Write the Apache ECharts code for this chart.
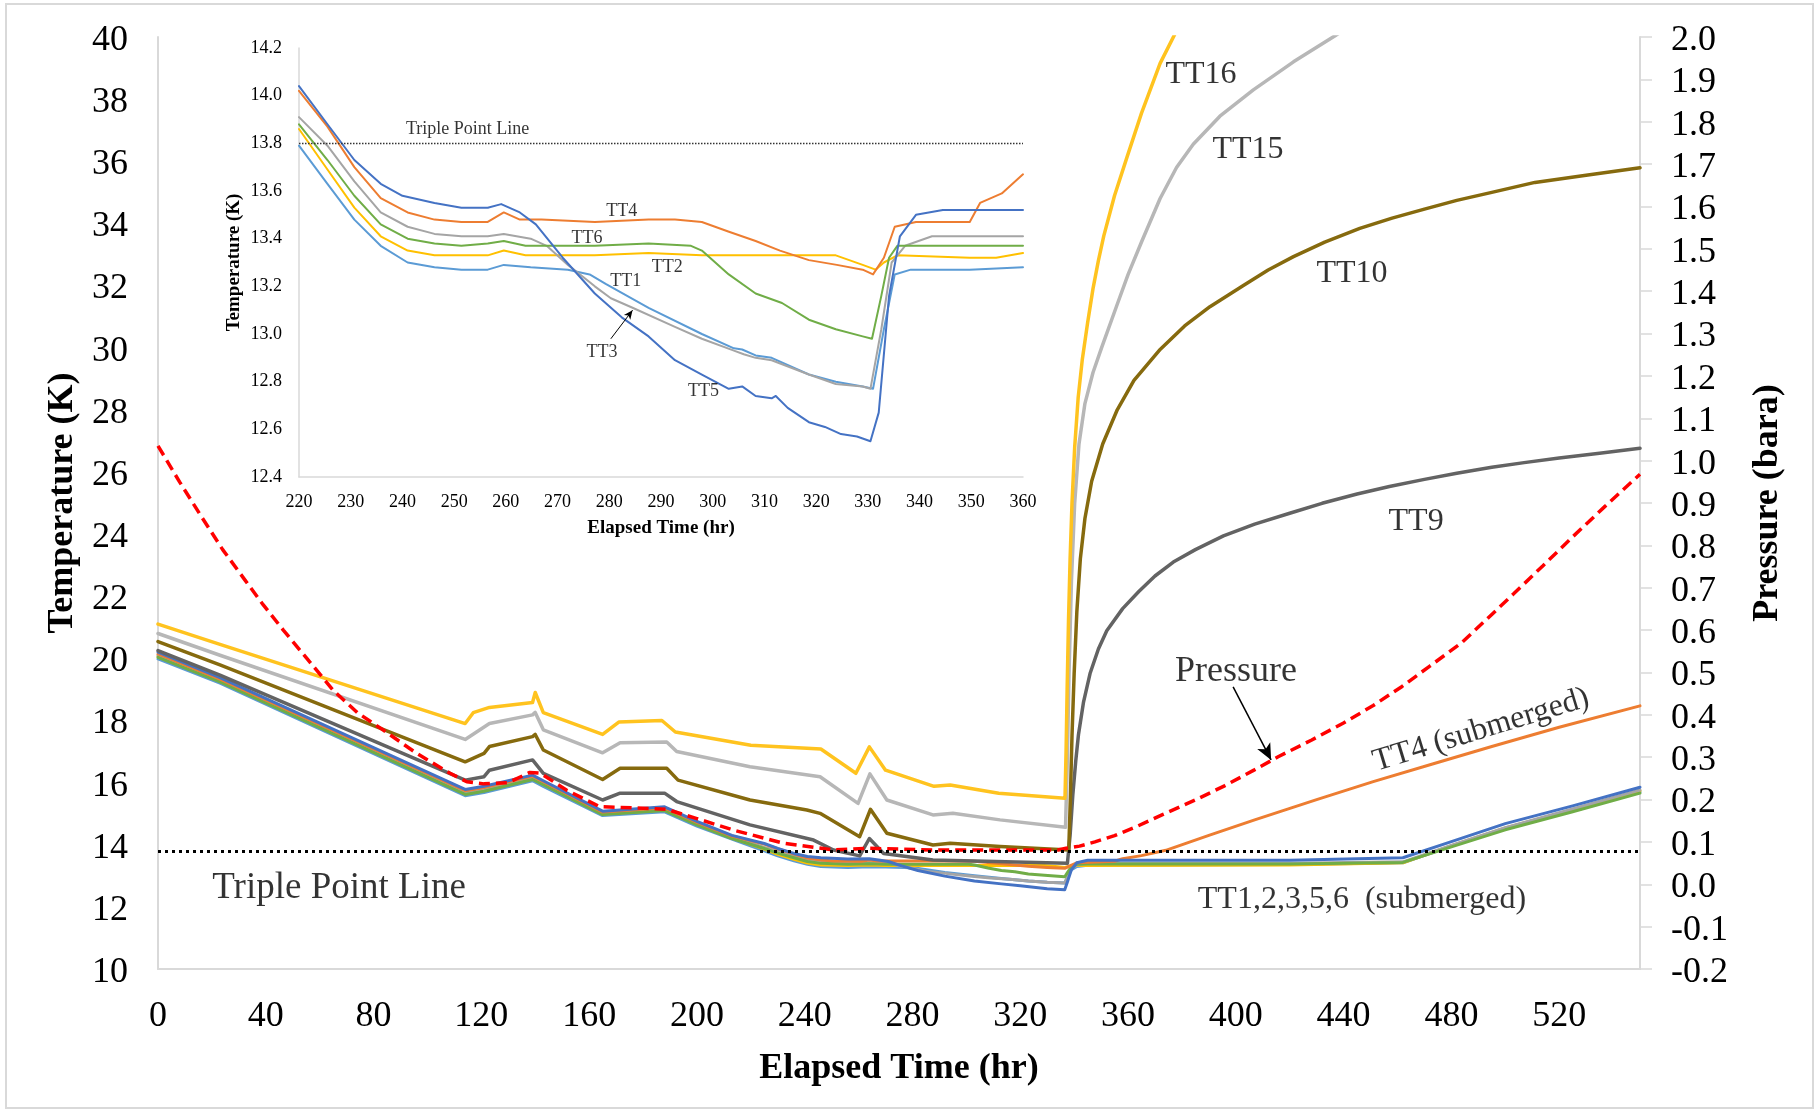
<!DOCTYPE html>
<html><head><meta charset="utf-8">
<script src="https://cdn.jsdelivr.net/npm/echarts@6/dist/echarts.min.js"></script>
<style>html,body{margin:0;padding:0;background:#fff}#c{width:1820px;height:1112px}</style>
</head><body><div id="c"></div>
<script>
// ---------------- main chart data: [elapsed time (hr), temperature (K)] ----------------
const TT16 = [[0,21.1],[23,20.45],[114,17.9],[117,18.25],[123,18.42],[139,18.58],[140,18.9],[143,18.25],[165,17.55],[171,17.95],[187,18.0],[192,17.63],[220,17.2],[246,17.08],[259,16.3],[264,17.15],[270,16.4],[288,15.88],[294,15.92],[312,15.66],[336.6,15.5],[337,17.0],[337.4,19.0],[337.9,21.2],[338.5,23.2],[339.2,25.0],[340.2,26.8],[341.5,28.4],[343,29.6],[345,30.8],[347,31.9],[349,32.8],[351,33.6],[355,34.9],[359.5,36.1],[365,37.55],[371.9,39.15],[378,40.2],[384,41.1]];
const TT15 = [[0,20.8],[23,20.1],[114,17.39],[123,17.9],[139,18.18],[140,18.26],[143,17.7],[165,16.96],[171.5,17.28],[188.8,17.31],[192.5,17.0],[219.7,16.51],[245.7,16.19],[259.8,15.33],[264.2,16.28],[270.5,15.44],[287.6,14.96],[295,15.01],[312.5,14.8],[336.8,14.56],[337.4,16.5],[338.1,19.5],[339,22.5],[340.2,25.0],[341.8,26.9],[344,28.2],[347,29.2],[350.2,30.0],[355.8,31.35],[360,32.35],[365,33.4],[371.9,34.8],[378,35.8],[384.2,36.55],[394.1,37.45],[406.5,38.3],[421.4,39.2],[437,40.05],[445,40.5]];
const TT10 = [[0,20.54],[23,19.79],[114,16.67],[121,16.94],[123,17.16],[139,17.48],[140,17.55],[143,17.05],[165,16.1],[171.5,16.46],[188.8,16.46],[193,16.08],[219.7,15.44],[240.8,15.12],[245.7,15.01],[260.4,14.26],[264.4,15.14],[270.5,14.37],[287.6,13.99],[294,14.05],[312.5,13.94],[338,13.83],[338.6,15.5],[339.2,17.5],[340,19.5],[341,21.5],[342.3,23.2],[344,24.5],[346.5,25.7],[350.6,26.9],[356,28.0],[362.2,28.95],[372,29.95],[381,30.7],[390.4,31.32],[402.8,32.0],[412,32.5],[421.4,32.93],[433,33.4],[446,33.84],[458,34.17],[470,34.46],[482,34.74],[495,35.0],[511,35.32],[530,35.55],[550,35.79]];
const TT9 = [[0,20.25],[23,19.46],[114,16.08],[121,16.19],[123,16.4],[139,16.73],[143,16.3],[165,15.44],[171.5,15.66],[188,15.66],[192.5,15.39],[219.7,14.64],[243.3,14.15],[250.7,13.83],[260.4,13.64],[264,14.2],[269.3,13.72],[287.6,13.51],[337.5,13.4],[338.5,14.3],[339.5,15.6],[340.6,16.7],[341.6,17.54],[343.5,18.6],[345.9,19.51],[349,20.3],[352.1,20.89],[358,21.6],[364,22.15],[370,22.65],[376.8,23.1],[385,23.5],[395.4,23.94],[407,24.32],[420,24.67],[432,24.99],[445,25.29],[457,25.53],[470,25.76],[482,25.96],[495,26.15],[507,26.3],[520,26.45],[535,26.6],[550,26.76]];
const mainTT1 = [[0,19.98],[23,19.2],[114,15.58],[121,15.68],[139,16.06],[143,15.88],[165,14.94],[188,15.06],[200,14.6],[213,14.18],[225,13.8],[230,13.64],[236,13.48],[241,13.37],[246,13.3],[256,13.27],[264,13.29],[270,13.28],[277,13.27],[281,13.25],[284,13.21],[292,13.11],[303,13.0],[313,12.91],[323,12.83],[330,12.79],[336.5,12.77],[337.5,12.95],[339,13.2],[341,13.3],[345,13.34],[420,13.36],[462,13.42],[480,13.96],[500,14.52],[525,15.1],[550,15.7]];
const mainTT2 = [[0,20.06],[23,19.27],[114,15.66],[121,15.76],[139,16.13],[143,15.96],[165,14.99],[188,15.12],[200,14.66],[213,14.22],[225,13.86],[230,13.69],[236,13.53],[241,13.41],[246,13.35],[256,13.33],[264,13.35],[270,13.33],[329,13.33],[334,13.29],[336.5,13.27],[338,13.3],[341,13.33],[420,13.35],[462,13.42],[480,13.97],[500,14.54],[525,15.13],[550,15.74]];
const mainTT3 = [[0,20.1],[23,19.3],[114,15.7],[121,15.8],[139,16.17],[143,16.0],[165,15.02],[188,15.15],[200,14.68],[213,14.25],[225,13.91],[230,13.79],[236,13.64],[241,13.51],[246,13.45],[256,13.41],[264,13.42],[270,13.4],[273,13.37],[277,13.29],[282,13.2],[285,13.15],[289,13.11],[297,13.03],[303,12.98],[309,12.93],[316,12.89],[323,12.83],[330,12.79],[336.5,12.77],[337.5,12.95],[339,13.25],[341,13.35],[345,13.4],[420,13.4],[462,13.45],[480,13.98],[500,14.55],[525,15.15],[550,15.76]];
const mainTT4 = [[0,20.14],[23,19.33],[114,15.74],[121,15.84],[139,16.21],[143,16.03],[165,15.05],[188,15.19],[200,14.72],[213,14.28],[225,14.02],[230,13.87],[236,13.7],[241,13.57],[246,13.51],[251,13.48],[261,13.47],[264,13.51],[267,13.48],[292,13.48],[303,13.47],[313,13.39],[323,13.31],[330,13.27],[336.5,13.24],[338,13.3],[341,13.42],[355,13.47],[358,13.55],[365,13.65],[374,13.82],[390,14.3],[407,14.8],[430,15.45],[451,16.03],[473,16.6],[495,17.16],[520,17.78],[550,18.47]];
const mainTT5 = [[0,20.2],[23,19.38],[114,15.78],[121,15.88],[139,16.24],[143,16.06],[165,15.08],[188,15.22],[200,14.75],[213,14.3],[225,14.04],[230,13.88],[236,13.72],[241,13.62],[246,13.58],[256,13.54],[264,13.55],[268,13.5],[271,13.46],[276,13.32],[282,13.17],[292,12.99],[303,12.83],[313,12.74],[320,12.68],[330,12.58],[336.5,12.55],[337.5,12.8],[339,13.2],[341,13.42],[345,13.5],[420,13.5],[462,13.58],[480,14.1],[500,14.68],[525,15.25],[550,15.85]];
const mainTT6 = [[0,20.03],[23,19.24],[114,15.62],[121,15.72],[139,16.1],[143,15.93],[165,14.97],[188,15.1],[200,14.64],[213,14.2],[225,13.88],[230,13.73],[236,13.58],[241,13.46],[246,13.4],[256,13.37],[264,13.39],[270,13.37],[301,13.37],[303,13.35],[308,13.25],[313,13.17],[318,13.13],[323,13.06],[329,13.02],[336.5,12.97],[337.5,13.1],[339,13.3],[341,13.37],[345,13.38],[420,13.38],[462,13.43],[480,13.93],[500,14.48],[525,15.06],[550,15.66]];
// pressure: [elapsed time (hr), pressure (bara)]
const pressure = [[0,1.035],[8,0.95],[15.6,0.873],[24,0.79],[32.3,0.718],[39,0.66],[46.5,0.6],[55,0.535],[65,0.458],[74,0.405],[83.6,0.364],[96,0.309],[108.4,0.262],[114.6,0.242],[121,0.237],[130,0.24],[138,0.264],[142,0.262],[151.7,0.222],[164,0.183],[182.6,0.179],[188.8,0.177],[200,0.155],[213.5,0.128],[232,0.097],[250.6,0.081],[263,0.085],[287.6,0.081],[334,0.081],[337,0.085],[342,0.09],[347.7,0.1],[355,0.115],[363.1,0.136],[373,0.165],[385,0.199],[396,0.233],[406.9,0.27],[415.7,0.301],[428,0.34],[439.8,0.38],[451,0.422],[461.7,0.467],[472,0.515],[483.6,0.569],[493,0.625],[503,0.685],[514,0.752],[525,0.82],[537,0.892],[550,0.968]];

// ---------------- inset data (220-360 hr) ----------------
const insetTT1 = [[220,13.79],[225.5,13.63],[230.7,13.48],[235.8,13.37],[241,13.3],[246.2,13.28],[251.4,13.27],[256.5,13.27],[259.6,13.29],[264.8,13.28],[272,13.27],[276.2,13.25],[279.3,13.21],[287.6,13.11],[297.9,13.0],[304.1,12.94],[305.7,12.935],[308.3,12.91],[311.4,12.9],[318.6,12.83],[323.8,12.8],[329,12.78],[331,12.77],[333.1,13.02],[335.2,13.25],[338.3,13.27],[349.7,13.27],[360,13.28]];
const insetTT2 = [[220,13.86],[225.5,13.69],[230.7,13.53],[235.8,13.41],[241,13.35],[246.2,13.33],[251.4,13.33],[256.5,13.33],[259.6,13.35],[263.8,13.33],[277.2,13.33],[287.6,13.34],[297.9,13.33],[318.6,13.33],[323.8,13.33],[329,13.29],[331.5,13.27],[333.1,13.3],[335.7,13.33],[349.7,13.32],[354.8,13.32],[360,13.34]];
const insetTT3 = [[220,13.91],[225.5,13.79],[230.7,13.64],[235.8,13.51],[241,13.45],[246.2,13.42],[251.4,13.41],[256.5,13.41],[259.6,13.42],[264.8,13.4],[267.9,13.37],[272,13.29],[277.2,13.2],[280.3,13.15],[284.5,13.11],[292.7,13.03],[297.9,12.98],[304.1,12.93],[306,12.915],[308.3,12.9],[311.4,12.89],[318.6,12.83],[323.8,12.79],[329,12.78],[330.5,12.77],[332.6,13.02],[334.6,13.3],[337.2,13.37],[342.4,13.41],[360,13.41]];
const insetTT4 = [[220,14.02],[225.5,13.87],[230.7,13.7],[235.8,13.57],[241,13.51],[246.2,13.48],[251.4,13.47],[256.5,13.47],[259.6,13.51],[262.7,13.48],[266.9,13.48],[277.2,13.47],[287.6,13.48],[292.7,13.48],[297.9,13.47],[303,13.43],[308.3,13.39],[313,13.35],[318.6,13.31],[324,13.29],[329,13.27],[331,13.25],[333.1,13.32],[335.2,13.45],[339.3,13.47],[349.7,13.47],[351.7,13.55],[355.9,13.59],[360,13.67]];
const insetTT5 = [[220,14.04],[225.5,13.88],[230.7,13.73],[235.8,13.63],[240,13.58],[246.2,13.55],[251.4,13.53],[256.5,13.53],[259.1,13.545],[262.7,13.51],[265.8,13.46],[271,13.32],[277.2,13.17],[282.4,13.07],[287.6,12.99],[292.7,12.89],[297.9,12.83],[303.1,12.77],[305.7,12.78],[308.3,12.74],[311.4,12.73],[312.2,12.74],[314.5,12.69],[318.6,12.63],[321.7,12.61],[324.8,12.58],[327.9,12.57],[330.5,12.55],[332.1,12.67],[334.1,13.16],[336.2,13.41],[339.3,13.5],[344.5,13.52],[349.7,13.52],[360,13.52]];
const insetTT6 = [[220,13.88],[225.5,13.73],[230.7,13.58],[235.8,13.46],[241,13.4],[246.2,13.38],[251.4,13.37],[256.5,13.38],[259.6,13.39],[263.8,13.37],[277.2,13.37],[287.6,13.38],[295.8,13.37],[297.9,13.35],[303.1,13.25],[308.3,13.17],[313.4,13.13],[318.6,13.06],[323.8,13.02],[329,12.99],[330.8,12.98],[332.6,13.16],[334.1,13.32],[335.7,13.37],[339.3,13.37],[360,13.37]];

// axis settings
const mainX = {min: 0, max: 550, interval: 40};
const mainYLeft = {min: 10, max: 40, interval: 2};
const mainYRight = {min: -0.2, max: 2.0, interval: 0.1};
const insetX = {min: 220, max: 360, interval: 10};
const insetY = {min: 12.4, max: 14.2, interval: 0.2};
const triplePoint = 13.8;

// annotation texts [text, time, temperature]
const mainLabels = [['TT16',387.1,38.78],['TT15',404.5,36.39],['TT10',443.1,32.4],['TT9',466.9,24.39],['TT1,2,3,5,6  (submerged)',446.8,12.22]];
const pressureLabel = ['Pressure',400.1,19.59];
const tt4Label = ['TT4 (submerged)',491,17.69];
const tripleLabel = ['Triple Point Line',67.2,12.61];
const insetLabels = [['TT4',282.4,13.514],['TT6',275.7,13.40],['TT2',291.2,13.28],['TT1',283.2,13.22],['TT3',278.6,12.925],['TT5',298.2,12.76]];
const insetTripleLabel = ['Triple Point Line',252.6,13.857];

const FONT = '"Liberation Serif","Times New Roman",serif';
const GRAY = '#d9d9d9';

function lineS(name, data, color, width, xi, yi, extra) {
  return Object.assign({
    name, type: 'line', data, xAxisIndex: xi, yAxisIndex: yi,
    showSymbol: false, symbol: 'none', smooth: false, clip: true,
    lineStyle: {color, width, cap: 'round', join: 'round'},
    emphasis: {disabled: true}, silent: true, animation: false
  }, extra || {});
}
function lbl(item, size, rotate) {
  return {name: item[0], value: [item[1], item[2]],
    label: {show: true, position: 'inside', formatter: '{b}', color: '#000', fontFamily: FONT, fontSize: size, rotate: rotate || 0}};
}

const chart = echarts.init(document.getElementById('c'), null, {renderer: 'canvas'});
const axisLabelBase = {color: '#000', fontFamily: FONT};

chart.setOption({
  animation: false,
  backgroundColor: '#fff',
  graphic: [{type: 'rect', shape: {x: 6, y: 4, width: 1807, height: 1104}, style: {fill: 'none', stroke: GRAY, lineWidth: 2}, z: -10, silent: true}],
  grid: [
    {left: 158, top: 37, right: 180, bottom: 143, containLabel: false, outerBoundsMode: 'none'},
    {left: 299, top: 48, width: 724, height: 429, containLabel: false, outerBoundsMode: 'none'}
  ],
  xAxis: [
    {type: 'value', gridIndex: 0, min: mainX.min, max: mainX.max, interval: mainX.interval,
     axisLine: {show: true, onZero: false, lineStyle: {color: GRAY, width: 2}}, axisTick: {show: false}, splitLine: {show: false},
     axisLabel: Object.assign({fontSize: 36, margin: 30, showMaxLabel: false}, axisLabelBase),
     name: 'Elapsed Time (hr)', nameLocation: 'middle', nameGap: 82,
     nameTextStyle: {fontFamily: FONT, fontSize: 36, fontWeight: 'bold', color: '#000'}},
    {type: 'value', gridIndex: 1, min: insetX.min, max: insetX.max, interval: insetX.interval,
     axisLine: {show: true, onZero: false, lineStyle: {color: GRAY, width: 1.5}}, axisTick: {show: false}, splitLine: {show: false},
     axisLabel: Object.assign({fontSize: 18, margin: 16}, axisLabelBase),
     name: 'Elapsed Time (hr)', nameLocation: 'middle', nameGap: 42,
     nameTextStyle: {fontFamily: FONT, fontSize: 19, fontWeight: 'bold', color: '#000'}}
  ],
  yAxis: [
    {type: 'value', gridIndex: 0, position: 'left', min: mainYLeft.min, max: mainYLeft.max, interval: mainYLeft.interval,
     axisLine: {show: true, onZero: false, lineStyle: {color: GRAY, width: 2}}, axisTick: {show: false}, splitLine: {show: false},
     axisLabel: Object.assign({fontSize: 36, margin: 30, verticalAlign: 'top', lineHeight: 7}, axisLabelBase),
     name: 'Temperature (K)', nameLocation: 'middle', nameGap: 66,
     nameTextStyle: {fontFamily: FONT, fontSize: 36, fontWeight: 'bold', color: '#000'}},
    {type: 'value', gridIndex: 0, position: 'right', min: mainYRight.min, max: mainYRight.max, interval: mainYRight.interval,
     axisLine: {show: true, onZero: false, lineStyle: {color: GRAY, width: 2}},
     axisTick: {show: true, inside: false, length: 12, lineStyle: {color: GRAY, width: 1.5}}, splitLine: {show: false},
     axisLabel: Object.assign({fontSize: 36, margin: 31, verticalAlign: 'top', lineHeight: 7, formatter: v => (Math.round(v * 10) / 10).toFixed(1)}, axisLabelBase),
     name: 'Pressure (bara)', nameLocation: 'middle', nameGap: 110, nameRotate: 90,
     nameTextStyle: {fontFamily: FONT, fontSize: 36, fontWeight: 'bold', color: '#000'}},
    {type: 'value', gridIndex: 1, min: insetY.min, max: insetY.max, interval: insetY.interval,
     axisLine: {show: true, onZero: false, lineStyle: {color: GRAY, width: 1.5}}, axisTick: {show: false}, splitLine: {show: false},
     axisLabel: Object.assign({fontSize: 18, margin: 17, formatter: v => (Math.round(v * 10) / 10).toFixed(1)}, axisLabelBase),
     name: 'Temperature (K)', nameLocation: 'middle', nameGap: 55,
     nameTextStyle: {fontFamily: FONT, fontSize: 19, fontWeight: 'bold', color: '#000'}}
  ],
  series: [
    lineS('TT1', mainTT1, '#5B9BD5', 3, 0, 0),
    lineS('TT2', mainTT2, '#FFC000', 3, 0, 0),
    lineS('TT3', mainTT3, '#A5A5A5', 3, 0, 0),
    lineS('TT6', mainTT6, '#70AD47', 3, 0, 0),
    lineS('TT4', mainTT4, '#ED7D31', 3, 0, 0),
    lineS('TT5', mainTT5, '#4472C4', 3, 0, 0),
    lineS('TT9', TT9, '#636363', 3.5, 0, 0),
    lineS('TT10', TT10, '#866A0E', 3.5, 0, 0),
    lineS('TT15', TT15, '#B7B7B7', 3.5, 0, 0),
    lineS('TT16', TT16, '#FFC31F', 3.5, 0, 0),
    lineS('Pressure', pressure, '#FF0000', 3.5, 0, 1, {lineStyle: {color: '#FF0000', width: 3.5, type: [11, 6], cap: 'butt'}}),
    {type: 'scatter', name: 'mainNotes', xAxisIndex: 0, yAxisIndex: 0, symbolSize: 0, silent: true, z: 5,
     data: mainLabels.map(l => lbl(l, 32)).concat([lbl(pressureLabel, 36), lbl(tt4Label, 32, 17), lbl(tripleLabel, 37)]),
     markLine: {silent: true, animation: false, symbol: 'none', label: {show: false},
       data: [
         {yAxis: triplePoint, lineStyle: {color: '#000', width: 3, type: [3, 4]}},
         [{coord: [399, 19.08], symbol: 'none', lineStyle: {color: '#000', width: 1.5, type: 'solid'}},
          {coord: [413.1, 16.73], symbol: 'arrow', symbolSize: [11, 16]}]
       ]}},
    lineS('iTT1', insetTT1, '#5B9BD5', 2, 1, 2),
    lineS('iTT2', insetTT2, '#FFC000', 2, 1, 2),
    lineS('iTT3', insetTT3, '#A5A5A5', 2, 1, 2),
    lineS('iTT6', insetTT6, '#70AD47', 2, 1, 2),
    lineS('iTT4', insetTT4, '#ED7D31', 2, 1, 2),
    lineS('iTT5', insetTT5, '#4472C4', 2, 1, 2),
    {type: 'scatter', name: 'insetNotes', xAxisIndex: 1, yAxisIndex: 2, symbolSize: 0, silent: true, z: 5,
     data: insetLabels.map(l => lbl(l, 18)).concat([lbl(insetTripleLabel, 18)]),
     markLine: {silent: true, animation: false, symbol: 'none', label: {show: false},
       data: [
         {yAxis: triplePoint, lineStyle: {color: '#333', width: 1.3, type: [1.5, 1.5]}},
         [{coord: [280.3, 12.98], symbol: 'none', lineStyle: {color: '#000', width: 1, type: 'solid'}},
          {coord: [284.5, 13.10], symbol: 'arrow', symbolSize: [6, 9]}]
       ]}}
  ]
});
</script>
</body></html>
